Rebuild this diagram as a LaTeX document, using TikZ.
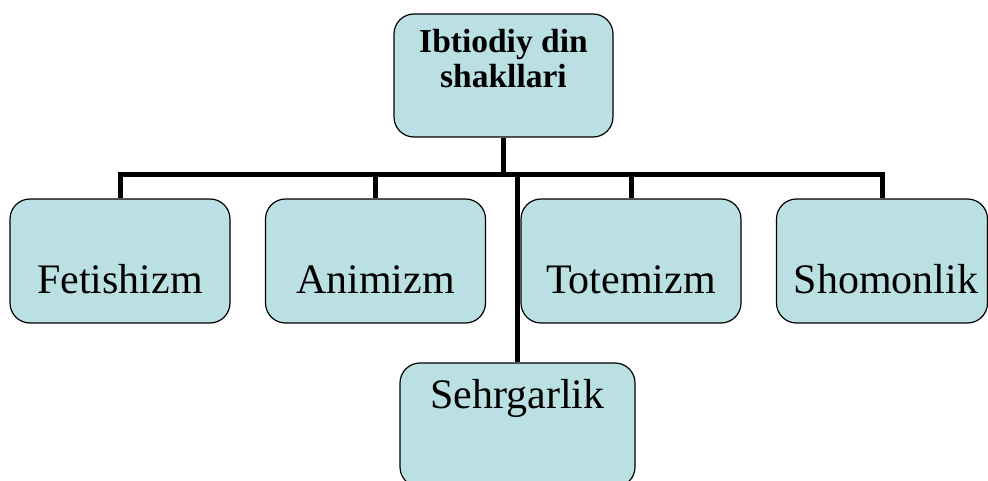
\documentclass[tikz,border=0pt]{standalone}
\usepackage{fontspec}
\setmainfont{Liberation Serif}
\definecolor{boxfill}{RGB}{187,224,227}
\begin{document}
\begin{tikzpicture}[x=1pt,y=-1pt,
  boxshape/.style={draw=black,line width=1.2pt,fill=boxfill,rounded corners=20pt,inner sep=0pt},
  conn/.style={draw=black,line width=5pt},
  smalltxt/.style={font=\fontsize{42}{46}\selectfont,inner sep=0pt,anchor=base},
  roottxt/.style={font=\fontsize{33.5}{35}\bfseries\selectfont,inner sep=0pt,anchor=base}]
\clip (0,0) rectangle (988,481);
\useasboundingbox (0,0) rectangle (988,481);
% boxes
\node[boxshape,minimum width=219pt,minimum height=123pt] (root) at (503.5,75.5) {};
\node[boxshape,minimum width=220pt,minimum height=124pt] (fet) at (120,261) {};
\node[boxshape,minimum width=220pt,minimum height=124pt] (ani) at (375.5,261) {};
\node[boxshape,minimum width=220pt,minimum height=124pt] (tot) at (631,261) {};
\node[boxshape,minimum width=211pt,minimum height=124pt] (sho) at (882,261) {};
\node[boxshape,minimum width=235pt,minimum height=124pt] (seh) at (517.5,425) {};
% texts
\node[roottxt] (rootA) at (503.5,53) {Ibtiodiy din};
\node[roottxt] (rootB) at (503.5,88) {shakllari};
\node[smalltxt] (fetT) at (120,293) {Fetishizm};
\node[smalltxt] (aniT) at (375.5,293) {Animizm};
\node[smalltxt] (totT) at (631,293) {Totemizm};
\node[smalltxt] (shoT) at (886,293) {Shomonlik};
\node[smalltxt] (sehT) at (517.5,408) {Sehrgarlik};
% connectors
\coordinate (bus) at (0,175);
\draw[conn] (root.south) -- (root.south |- bus);
\draw[conn] (fet.north) |- (sho.north |- bus) -- (sho.north);
\draw[conn] (ani.north) -- (ani.north |- bus);
\draw[conn] (tot.north) -- (tot.north |- bus);
\draw[conn] (seh.north) -- (seh.north |- bus);
\end{tikzpicture}
\end{document}
